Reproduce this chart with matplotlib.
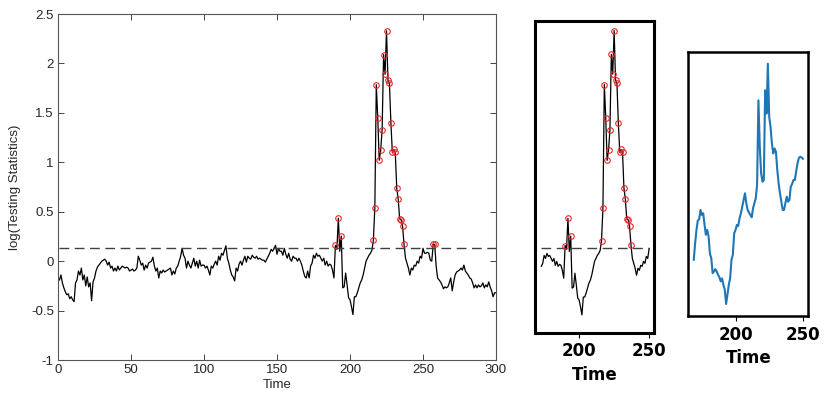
import numpy as np
import matplotlib
matplotlib.use("Agg")
import matplotlib.pyplot as plt

plt.rcParams["axes.unicode_minus"] = False

# log testing statistics, time 1..300
stat_t = np.arange(1, 301)
stat = [
    -0.19, -0.14, -0.22, -0.27, -0.31, -0.34, -0.33, -0.38, -0.36, -0.39,
    -0.41, -0.22, -0.19, -0.10, -0.14, -0.07, -0.19, -0.14, -0.25, -0.16,
    -0.26, -0.22, -0.40, -0.21, -0.17, -0.10, -0.06, -0.04, -0.02, 0.00,
    0.01, 0.02, 0.00, -0.04, -0.01, -0.07, -0.05, -0.10, -0.07, -0.10,
    -0.05, -0.09, -0.07, -0.05, -0.06, -0.07, -0.06, -0.07, -0.10, -0.09,
    -0.08, -0.10, -0.09, -0.07, 0.05, 0.01, -0.04, -0.02, -0.09, -0.04,
    -0.07, -0.02, -0.01, 0.00, 0.04, -0.05, -0.10, -0.07, -0.17, -0.10,
    -0.12, -0.09, -0.11, -0.10, -0.09, -0.08, -0.07, -0.14, -0.10, -0.13,
    -0.07, -0.05, 0.00, 0.05, 0.13, 0.06, 0.03, -0.07, 0.00, -0.04,
    -0.07, -0.02, 0.03, -0.05, 0.00, -0.07, 0.01, -0.05, -0.04, -0.04,
    -0.07, -0.05, -0.09, -0.14, -0.05, -0.07, -0.03, 0.00, -0.04, 0.05,
    0.01, 0.08, 0.06, 0.11, 0.155, 0.03, -0.02, -0.09, -0.14, -0.16,
    -0.20, -0.07, -0.10, -0.03, 0.00, -0.04, 0.01, 0.05, -0.01, 0.05,
    0.03, 0.02, 0.06, 0.04, 0.03, 0.05, 0.02, 0.03, 0.02, 0.01,
    0.01, -0.01, 0.02, 0.05, 0.08, 0.12, 0.10, 0.13, 0.16, 0.07,
    0.13, 0.10, 0.10, 0.06, 0.13, 0.07, 0.03, 0.08, 0.02, 0.00,
    0.05, 0.03, 0.03, 0.00, 0.03, 0.00, -0.04, -0.10, -0.155, -0.17,
    -0.10, -0.17, -0.05, -0.02, 0.06, 0.03, 0.08, 0.05, 0.06, 0.03,
    0.00, 0.03, -0.04, 0.00, -0.05, -0.03, -0.04, -0.09, -0.17, 0.16,
    0.12, 0.434, 0.10, 0.254, -0.27, -0.26, -0.12, -0.24, -0.37, -0.39,
    -0.46, -0.54, -0.36, -0.36, -0.32, -0.27, -0.22, -0.19, -0.14, -0.07,
    0.00, 0.03, 0.06, 0.08, 0.11, 0.21, 0.54, 1.785, 1.45, 1.02,
    1.12, 1.33, 2.09, 1.89, 2.33, 1.83, 1.80, 1.40, 1.10, 1.13,
    1.10, 0.74, 0.63, 0.43, 0.42, 0.355, 0.17, 0.03, -0.02, -0.07,
    -0.14, -0.07, -0.09, -0.04, -0.05, 0.00, -0.02, 0.05, 0.03, 0.13,
    0.08, 0.08, 0.09, 0.08, 0.01, 0.00, 0.17, 0.17, -0.05, -0.17,
    -0.19, -0.21, -0.24, -0.28, -0.26, -0.27, -0.26, -0.22, -0.17, -0.30,
    -0.21, -0.14, -0.11, -0.10, -0.09, -0.07, -0.09, -0.04, -0.10, -0.12,
    -0.14, -0.17, -0.18, -0.22, -0.27, -0.24, -0.27, -0.24, -0.26, -0.25,
    -0.22, -0.27, -0.24, -0.26, -0.21, -0.26, -0.30, -0.36, -0.32, -0.32,
]
threshold = 0.135
alarm_start = 180

# raw signal shown in the right panel
sig_t = np.arange(169, 251)
sig = [
    1.70, 2.20, 2.60, 2.88, 2.92, 3.20, 3.05, 3.10, 2.75, 2.45,
    2.60, 2.40, 1.88, 1.75, 1.30, 1.35, 1.42, 1.35, 1.25, 1.18,
    1.05, 1.14, 0.95, 0.80, 0.37, 0.65, 0.95, 1.15, 1.70, 1.85,
    2.50, 2.60, 2.75, 2.72, 2.95, 3.10, 3.30, 3.50, 3.70, 3.40,
    3.20, 3.12, 3.05, 2.98, 3.25, 3.40, 3.55, 3.95, 6.50, 5.10,
    4.30, 4.05, 4.10, 6.80, 6.10, 7.60, 6.00, 5.70, 5.20, 4.90,
    5.05, 4.95, 4.40, 4.00, 3.70, 3.45, 3.20, 3.20, 3.40, 3.60,
    3.45, 3.50, 3.90, 3.98, 4.10, 4.10, 4.35, 4.60, 4.76, 4.80,
    4.78, 4.74,
]

zoom_range = (173, 250)

stat = np.array(stat)
alarm = (stat_t >= alarm_start) & (stat > threshold)

fig = plt.figure(figsize=(8.3, 3.99), dpi=100)

# main panel, MATLAB look
ax = fig.add_axes([0.0699, 0.0977, 0.5277, 0.8672])
ax.plot(stat_t, stat, color="black", lw=0.9)
ax.plot(stat_t, np.full(len(stat_t), threshold), color="#404040", lw=1.0,
        dashes=(7, 4))
ax.plot(stat_t[alarm], stat[alarm], "o", mfc="none", mec="#e8262b",
        ms=4, mew=0.8)
ax.set_xlim(0, 300)
ax.set_ylim(-1, 2.5)
ax.set_xticks(np.arange(0, 301, 50))
ax.set_yticks(np.arange(-1, 2.51, 0.5))
ax.set_yticklabels(["-1", "-0.5", "0", "0.5", "1", "1.5", "2", "2.5"])
ax.tick_params(direction="in", top=True, right=True, length=4, width=0.6,
               colors="#262626", labelsize=9.5, pad=3)
for sp in ax.spines.values():
    sp.set_color("#555555")
    sp.set_linewidth(0.8)
for lbl in ax.get_xticklabels() + ax.get_yticklabels():
    lbl.set_fontfamily("Liberation Sans")
ax.set_xlabel("Time", fontsize=9.5, family="Liberation Sans", color="#262626")
ax.set_ylabel("log(Testing Statistics)", fontsize=9.5, family="Liberation Sans",
              color="#262626")
ax.xaxis.set_label_coords(0.5, -0.055)
ax.yaxis.set_label_coords(-0.085, 0.5)

# zoomed copy of the statistic
m = (stat_t >= zoom_range[0]) & (stat_t <= zoom_range[1])
ax2 = fig.add_axes([0.6446, 0.1662, 0.1434, 0.782])
ax2.plot(stat_t[m], stat[m], color="black", lw=0.9)
ax2.plot(stat_t[m], np.full(m.sum(), threshold), color="#404040", lw=1.0,
         dashes=(7, 4))
ma = m & alarm
ax2.plot(stat_t[ma], stat[ma], "o", mfc="none", mec="#e8262b", ms=4, mew=0.8)
ax2.set_xlim(168.5, 253.5)
ax2.set_ylim(-0.72, 2.43)
ax2.set_xticks([200, 250])
ax2.set_yticks([])
for sp in ax2.spines.values():
    sp.set_linewidth(2.2)
for lbl in ax2.get_xticklabels():
    lbl.set_fontweight("bold")
    lbl.set_fontsize(12)
ax2.set_xlabel("Time", fontsize=12, fontweight="bold")

# raw signal
ax3 = fig.add_axes([0.8293, 0.208, 0.1446, 0.6624])
ax3.plot(sig_t, sig, color="#1f77b4", lw=1.5)
ax3.set_xticks([200, 250])
ax3.set_yticks([])
for sp in ax3.spines.values():
    sp.set_linewidth(1.8)
for lbl in ax3.get_xticklabels():
    lbl.set_fontweight("bold")
    lbl.set_fontsize(12)
ax3.set_xlabel("Time", fontsize=12, fontweight="bold")

fig.savefig("out.png", dpi=100)
